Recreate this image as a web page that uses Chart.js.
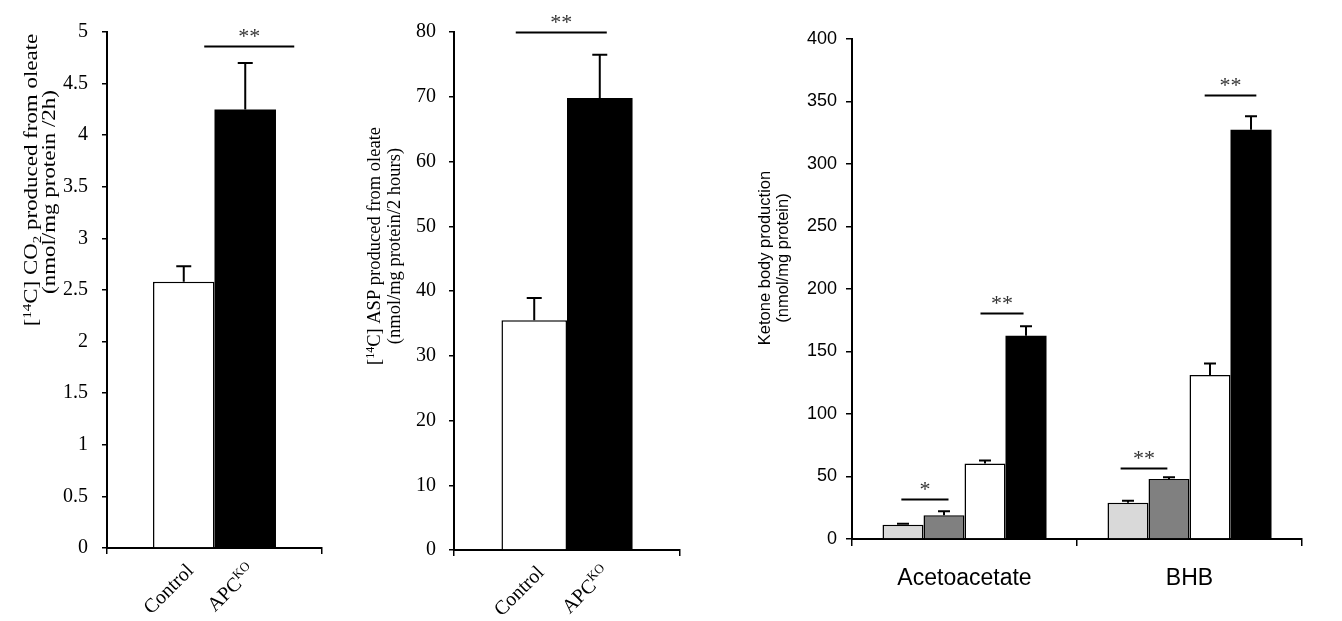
<!DOCTYPE html>
<html>
<head>
<meta charset="utf-8">
<script src="https://cdn.jsdelivr.net/npm/chart.js@4.4.1/dist/chart.umd.min.js"></script>
<style>
  html, body { margin: 0; padding: 0; background: #fff; width: 1342px; height: 621px; overflow: hidden; }
  canvas { position: absolute; top: 0; }
  #c1 { left: 0; }
  #c2 { left: 330px; }
  #c3 { left: 700px; }
</style>
</head>
<body>
<canvas id="c1" width="330" height="621"></canvas>
<canvas id="c2" width="360" height="621"></canvas>
<canvas id="c3" width="642" height="621"></canvas>
<script>
// ---------------- DATA ----------------
const groupSeries = ['Control', 'APCKO'];
const groupLabelParts = [[{ t: 'Control' }], [{ t: 'APC' }, { t: 'KO', sup: true }]];

const co2Values = [2.58, 4.25];
const co2Errors = [0.15, 0.45];
const co2TickValues = [0, 0.5, 1, 1.5, 2, 2.5, 3, 3.5, 4, 4.5, 5];

const aspValues = [35.5, 69.8];
const aspErrors = [3.4, 6.7];
const aspTickValues = [0, 10, 20, 30, 40, 50, 60, 70, 80];

const ketoneCategories = ['Acetoacetate', 'BHB'];
const ketoneSeries = ['Series 1', 'Series 2', 'Series 3', 'Series 4'];
const ketoneValues1 = [11.4, 29.1];
const ketoneErrors1 = [0.8, 1.5];
const ketoneValues2 = [19.0, 48.1];
const ketoneErrors2 = [3.2, 1.3];
const ketoneValues3 = [60.4, 131.3];
const ketoneErrors3 = [2.4, 9.2];
const ketoneValues4 = [162.7, 327.5];
const ketoneErrors4 = [7.6, 10.8];
const ketoneTickValues = [0, 50, 100, 150, 200, 250, 300, 350, 400];

// ---------------- HELPERS ----------------
const SERIF = '"Liberation Serif", "Times New Roman", serif';
const SANS = '"Liberation Sans", Arial, sans-serif';

function drawRich(ctx, segs, family, size, align) {
  const fontOf = s => `${(s.sup || s.sub) ? Math.round(size * 0.65) : size}px ${family}`;
  const widths = segs.map(s => { ctx.font = fontOf(s); return ctx.measureText(s.t).width; });
  const total = widths.reduce((a, b) => a + b, 0);
  let x = align === 'right' ? -total : align === 'center' ? -total / 2 : 0;
  ctx.textAlign = 'left';
  ctx.textBaseline = 'alphabetic';
  segs.forEach((s, i) => {
    ctx.font = fontOf(s);
    const dy = s.sup ? -size * 0.36 : s.sub ? size * 0.2 : 0;
    ctx.fillText(s.t, x, dy);
    x += widths[i];
  });
}

const errorBarPlugin = {
  id: 'errbars',
  afterDraw(chart, args, o) {
    const ctx = chart.ctx, ys = chart.scales.y;
    chart.data.datasets.forEach((ds, di) => {
      const meta = chart.getDatasetMeta(di);
      meta.data.forEach((bar, i) => {
        const v = ds.data[i], e = ds.errors[i];
        const yv = ys.getPixelForValue(v), yt = ys.getPixelForValue(v + e);
        ctx.save();
        ctx.strokeStyle = '#000';
        ctx.lineWidth = o.lineWidth;
        ctx.beginPath();
        ctx.moveTo(bar.x, yv);
        ctx.lineTo(bar.x, yt);
        ctx.moveTo(bar.x - o.cap / 2, yt);
        ctx.lineTo(bar.x + o.cap / 2, yt);
        ctx.stroke();
        ctx.restore();
      });
    });
  }
};

const sigPlugin = {
  id: 'sig',
  afterDraw(chart, args, o) {
    const ctx = chart.ctx, ys = chart.scales.y;
    o.marks.forEach(m => {
      const c0 = chart.getDatasetMeta(m.from).data[m.cat].x;
      const c1 = chart.getDatasetMeta(m.to).data[m.cat].x;
      const step = (c1 - c0) / (m.to - m.from);
      const x0 = c0 + m.p0 * step, x1 = c0 + m.p1 * step;
      const y = Math.round(ys.getPixelForValue(m.value)) + 0.5;
      ctx.save();
      ctx.strokeStyle = '#000';
      ctx.lineWidth = 2;
      ctx.beginPath();
      ctx.moveTo(x0, y);
      ctx.lineTo(x1, y);
      ctx.stroke();
      ctx.fillStyle = '#333';
      ctx.font = `${o.size}px ${SERIF}`;
      ctx.textAlign = 'center';
      ctx.textBaseline = 'alphabetic';
      ctx.fillText(m.text, (x0 + x1) / 2, y - o.gap);
      ctx.restore();
    });
  }
};

const yTitlePlugin = {
  id: 'ytitle',
  afterDraw(chart, args, o) {
    const ctx = chart.ctx;
    o.lines.forEach((segs, i) => {
      ctx.save();
      ctx.fillStyle = '#000';
      ctx.translate(o.xs[i] + o.size * 0.35, o.ys[i]);
      ctx.rotate(-Math.PI / 2);
      ctx.scale(o.stretch || 1, 1);
      drawRich(ctx, segs, o.family, o.size, 'center');
      ctx.restore();
    });
  }
};

const xLabelPlugin = {
  id: 'xlabels',
  afterDraw(chart, args, o) {
    if (!o.parts) return;
    const ctx = chart.ctx;
    const bottom = chart.chartArea.bottom;
    o.parts.forEach((segs, di) => {
      const bar = chart.getDatasetMeta(di).data[0];
      ctx.save();
      ctx.fillStyle = '#000';
      ctx.translate(bar.x + o.dx, bottom + o.dy);
      ctx.rotate(-Math.PI / 4);
      ctx.translate(0, o.size * 0.33);
      drawRich(ctx, segs, SERIF, o.size, 'right');
      ctx.restore();
    });
  }
};

function yAxis(ticks, width, font, padding, tickLength) {
  return {
    type: 'linear',
    min: ticks[0],
    max: ticks[ticks.length - 1],
    afterBuildTicks: s => { s.ticks = ticks.map(v => ({ value: v })); },
    ticks: { font: font, color: '#000', padding: padding, callback: v => String(v) },
    grid: { drawOnChartArea: false, drawTicks: true, tickLength: tickLength, color: '#000', lineWidth: 1.5 },
    border: { display: true, color: '#000', width: 2 },
    afterFit: s => { s.width = width; }
  };
}

// ---------------- PANELS 1 & 2 ----------------
function twoBarPanel(id, values, errors, ticks, opt) {
  const colors = ['#ffffff', '#000000'];
  new Chart(document.getElementById(id), {
    type: 'bar',
    data: {
      labels: [''],
      datasets: groupSeries.map((name, i) => ({
        label: name,
        data: [values[i]],
        errors: [errors[i]],
        backgroundColor: colors[i],
        borderColor: '#000',
        borderWidth: i === 0 ? 1.5 : 0,
        barPercentage: 1,
        categoryPercentage: opt.catPct
      }))
    },
    options: {
      responsive: false,
      animation: false,
      devicePixelRatio: 1,
      layout: { padding: { top: opt.top, right: opt.right, left: 0, bottom: 0 } },
      plugins: {
        legend: { display: false },
        tooltip: { enabled: false },
        errbars: { cap: 15, lineWidth: 2 },
        sig: { marks: opt.marks, size: 22, gap: 4 },
        ytitle: { lines: opt.titleLines, xs: opt.titleXs, ys: opt.titleYs, family: SERIF, size: opt.titleSize, stretch: opt.titleStretch },
        xlabels: { parts: groupLabelParts, dx: 6, dy: 19, size: 20 }
      },
      scales: {
        x: {
          type: 'category',
          offset: true,
          grid: { display: true, drawOnChartArea: false, drawTicks: true, tickLength: 6, color: '#000', lineWidth: 1.5, offset: true },
          border: { display: true, color: '#000', width: 2 },
          ticks: { display: false },
          afterFit: s => { s.height = opt.xHeight; }
        },
        y: yAxis(ticks, opt.yWidth, { family: SERIF, size: 20 }, opt.tickPad, 5)
      }
    },
    plugins: [errorBarPlugin, sigPlugin, yTitlePlugin, xLabelPlugin]
  });
}

twoBarPanel('c1', co2Values, co2Errors, co2TickValues, {
  catPct: 0.572, top: 32, right: 8, xHeight: 73, yWidth: 107, tickPad: 14,
  marks: [{ cat: 0, from: 0, to: 1, p0: 0.333, p1: 1.797, value: 4.86, text: '**' }],
  titleLines: [
    [{ t: '[' }, { t: '14', sup: true }, { t: 'C] CO' }, { t: '2', sub: true }, { t: ' produced from oleate' }],
    [{ t: '(nmol/mg protein /2h)' }]
  ],
  titleXs: [31, 49], titleYs: [180, 192], titleSize: 18.5, titleStretch: 1.24
});

twoBarPanel('c2', aspValues, aspErrors, aspTickValues, {
  catPct: 0.58, top: 32, right: 10, xHeight: 71, yWidth: 124, tickPad: 13,
  marks: [{ cat: 0, from: 0, to: 1, p0: -0.282, p1: 1.107, value: 80, text: '**' }],
  titleLines: [
    [{ t: '[' }, { t: '14', sup: true }, { t: 'C] ASP produced from oleate' }],
    [{ t: '(nmol/mg protein/2 hours)' }]
  ],
  titleXs: [44, 64], titleYs: [246, 246], titleSize: 18.5, titleStretch: 1
});

// ---------------- PANEL 3 ----------------
const ketoneValueSets = [ketoneValues1, ketoneValues2, ketoneValues3, ketoneValues4];
const ketoneErrorSets = [ketoneErrors1, ketoneErrors2, ketoneErrors3, ketoneErrors4];
const ketoneColors = ['#d9d9d9', '#808080', '#ffffff', '#000000'];

new Chart(document.getElementById('c3'), {
  type: 'bar',
  data: {
    labels: ketoneCategories,
    datasets: ketoneSeries.map((name, i) => ({
      label: name,
      data: ketoneValueSets[i],
      errors: ketoneErrorSets[i],
      backgroundColor: ketoneColors[i],
      borderColor: '#000',
      borderWidth: i === 3 ? 0 : 1.5,
      barPercentage: 1,
      categoryPercentage: 0.729
    }))
  },
  options: {
    responsive: false,
    animation: false,
    devicePixelRatio: 1,
    layout: { padding: { top: 39, right: 40, left: 0, bottom: 0 } },
    plugins: {
      legend: { display: false },
      tooltip: { enabled: false },
      errbars: { cap: 12, lineWidth: 2 },
      sig: {
        size: 22, gap: 4,
        marks: [
          { cat: 0, from: 0, to: 1, p0: -0.04, p1: 1.11, value: 32.3, text: '*' },
          { cat: 0, from: 2, to: 3, p0: -0.11, p1: 0.94, value: 181, text: '**' },
          { cat: 1, from: 0, to: 1, p0: -0.18, p1: 0.96, value: 56.6, text: '**' },
          { cat: 1, from: 2, to: 3, p0: -0.13, p1: 1.13, value: 355, text: '**' }
        ]
      },
      ytitle: {
        lines: [[{ t: 'Ketone body production' }], [{ t: '(nmol/mg protein)' }]],
        xs: [64, 82], ys: [258, 258], family: SANS, size: 16.5
      },
      xlabels: { parts: null }
    },
    scales: {
      x: {
        type: 'category',
        offset: true,
        grid: { display: true, drawOnChartArea: false, drawTicks: true, tickLength: 7, color: '#000', lineWidth: 1.5, offset: true },
        border: { display: true, color: '#000', width: 2 },
        ticks: { font: { family: SANS, size: 23 }, color: '#000', padding: 19, maxRotation: 0, autoSkip: false },
        afterFit: s => { s.height = 82; }
      },
      y: yAxis(ketoneTickValues, 152, { family: SANS, size: 18 }, 9, 6)
    }
  },
  plugins: [errorBarPlugin, sigPlugin, yTitlePlugin, xLabelPlugin]
});
</script>
</body>
</html>
